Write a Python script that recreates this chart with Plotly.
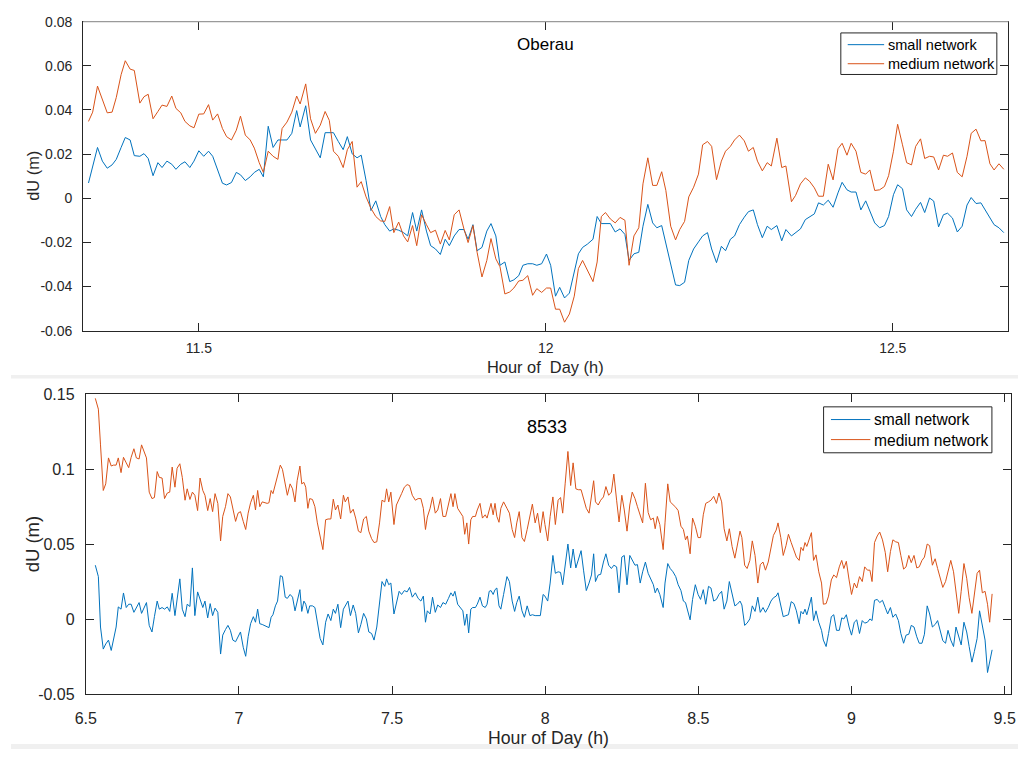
import plotly.graph_objects as go

# ---------------- Top panel (Oberau) ----------------
top_hours = [
    11.341, 11.347, 11.354, 11.361, 11.368, 11.375, 11.381, 11.388, 11.394, 11.401,
    11.407, 11.415, 11.421, 11.427, 11.434, 11.441, 11.447, 11.454, 11.461, 11.467,
    11.474, 11.480, 11.487, 11.493, 11.500, 11.507, 11.514, 11.520, 11.527, 11.534,
    11.540, 11.547, 11.554, 11.560, 11.567, 11.574, 11.580, 11.587, 11.593, 11.600,
    11.607, 11.614, 11.620, 11.627, 11.634, 11.641,
    11.646, 11.654, 11.661, 11.668, 11.675, 11.682, 11.688, 11.694, 11.701, 11.708,
    11.714, 11.721, 11.728, 11.734, 11.741, 11.748, 11.755, 11.762, 11.768, 11.775,
    11.781, 11.788, 11.795, 11.801, 11.808, 11.814, 11.821, 11.828, 11.834, 11.841,
    11.848, 11.855, 11.861, 11.868, 11.875, 11.882, 11.888, 11.895, 11.901, 11.908,
    11.915, 11.921, 11.928, 11.934, 11.941, 11.948, 11.954, 11.961, 11.967, 11.974,
    11.981, 11.987, 11.994, 12.001, 12.007, 12.014, 12.020,
    12.027, 12.034, 12.041, 12.047, 12.053, 12.060, 12.068, 12.074, 12.080, 12.086,
    12.093, 12.100, 12.107, 12.114, 12.120, 12.127, 12.134, 12.140, 12.147, 12.154,
    12.160, 12.167, 12.173, 12.180, 12.187, 12.193, 12.200, 12.206, 12.213, 12.220,
    12.226, 12.233, 12.239, 12.246, 12.253, 12.259, 12.266, 12.272, 12.279, 12.286,
    12.292, 12.299, 12.305, 12.312, 12.319, 12.325, 12.333, 12.340, 12.346, 12.354,
    12.360, 12.367, 12.374, 12.380, 12.387, 12.393, 12.400, 12.407,
    12.414, 12.421, 12.427, 12.434, 12.440, 12.447, 12.454, 12.461, 12.467, 12.474,
    12.481, 12.488, 12.494, 12.501, 12.507, 12.514, 12.520, 12.527, 12.533, 12.540,
    12.546, 12.553, 12.559, 12.566, 12.573, 12.579, 12.586, 12.593, 12.600, 12.607,
    12.613, 12.620, 12.627, 12.633, 12.640, 12.646, 12.653, 12.660,
]

top_small = [
    0.0069, 0.0139, 0.0230, 0.0168, 0.0136, 0.0151, 0.0176, 0.0230, 0.0275, 0.0264,
    0.0193, 0.0190, 0.0202, 0.0180, 0.0102, 0.0161, 0.0139, 0.0168, 0.0154, 0.0131,
    0.0154, 0.0165, 0.0139, 0.0168, 0.0215, 0.0190, 0.0213, 0.0190, 0.0131, 0.0068,
    0.0060, 0.0071, 0.0117, 0.0106, 0.0080, 0.0097, 0.0117, 0.0131, 0.0097, 0.0326,
    0.0230, 0.0264, 0.0264, 0.0264, 0.0294, 0.0397,
    0.0323, 0.0419, 0.0264, 0.0220, 0.0183, 0.0297, 0.0297, 0.0297, 0.0257, 0.0220,
    0.0279, 0.0201, 0.0183, 0.0195, 0.0080, -0.0056, -0.0012, -0.0083, -0.0120, -0.0149,
    -0.0139, -0.0145, -0.0156, -0.0171, -0.0065, -0.0149, -0.0053, -0.0149, -0.0215, -0.0230,
    -0.0255, -0.0186, -0.0215, -0.0171, -0.0142, -0.0142, -0.0186, -0.0120, -0.0238, -0.0223,
    -0.0149, -0.0115, -0.0171, -0.0304, -0.0289, -0.0378, -0.0370, -0.0351, -0.0304, -0.0297,
    -0.0297, -0.0304, -0.0297, -0.0253, -0.0304, -0.0444, -0.0404,
    -0.0452, -0.0430, -0.0326, -0.0252, -0.0223, -0.0208, -0.0186, -0.0083, -0.0115, -0.0115,
    -0.0115, -0.0153, -0.0139, -0.0164, -0.0282, -0.0252, -0.0245, -0.0127, -0.0028, -0.0112,
    -0.0134, -0.0124, -0.0208, -0.0304, -0.0393, -0.0396, -0.0381, -0.0282, -0.0230, -0.0198,
    -0.0171, -0.0156, -0.0230, -0.0292, -0.0218, -0.0238, -0.0186, -0.0171, -0.0120, -0.0086,
    -0.0061, -0.0053, -0.0120, -0.0179, -0.0127, -0.0142, -0.0124, -0.0193, -0.0142, -0.0171,
    -0.0156, -0.0139, -0.0097, -0.0083, -0.0071, -0.0021, -0.0031, -0.0009,
    -0.0041, 0.0024, 0.0072, 0.0038, 0.0028, 0.0028, -0.0053, -0.0012, -0.0061, -0.0112,
    -0.0134, -0.0124, -0.0083, 0.0016, 0.0061, 0.0043, -0.0053, -0.0083, -0.0050, -0.0019,
    -0.0065, 0.0001, -0.0013, -0.0130, -0.0075, -0.0068, -0.0090, -0.0153, -0.0127, -0.0031,
    0.0003, -0.0024, -0.0021, -0.0053, -0.0090, -0.0120, -0.0134, -0.0156,
]

top_medium = [
    0.0348, 0.0390, 0.0508, 0.0449, 0.0387, 0.0390, 0.0456, 0.0560, 0.0623, 0.0585,
    0.0579, 0.0431, 0.0460, 0.0471, 0.0360, 0.0393, 0.0422, 0.0416, 0.0463, 0.0407,
    0.0387, 0.0348, 0.0328, 0.0319, 0.0381, 0.0382, 0.0424, 0.0354, 0.0382, 0.0316,
    0.0279, 0.0264, 0.0308, 0.0372, 0.0286, 0.0264, 0.0227, 0.0161, 0.0117, 0.0213,
    0.0190, 0.0176, 0.0316, 0.0345, 0.0390, 0.0463,
    0.0427, 0.0518, 0.0360, 0.0294, 0.0331, 0.0393, 0.0353, 0.0213, 0.0190, 0.0139,
    0.0220, 0.0257, 0.0050, 0.0075, 0.0006, -0.0046, -0.0083, -0.0103, -0.0105, -0.0038,
    -0.0156, -0.0108, -0.0171, -0.0198, -0.0124, -0.0215, -0.0075, -0.0120, -0.0156, -0.0145,
    -0.0208, -0.0146, -0.0189, -0.0075, -0.0053, -0.0139, -0.0201, -0.0124, -0.0245, -0.0357,
    -0.0282, -0.0183, -0.0275, -0.0311, -0.0434, -0.0425, -0.0407, -0.0375, -0.0372, -0.0351,
    -0.0440, -0.0410, -0.0427, -0.0407, -0.0407, -0.0503, -0.0503,
    -0.0562, -0.0525, -0.0444, -0.0319, -0.0282, -0.0326, -0.0378, -0.0289, -0.0083, -0.0065,
    -0.0094, -0.0112, -0.0087, -0.0100, -0.0304, -0.0171, -0.0134, 0.0065, 0.0183, 0.0058,
    0.0058, 0.0120, 0.0035, -0.0127, -0.0189, -0.0142, -0.0105, 0.0006, 0.0050, 0.0109,
    0.0242, 0.0257, 0.0235, 0.0084, 0.0168, 0.0213, 0.0235, 0.0264, 0.0286, 0.0260,
    0.0213, 0.0230, 0.0168, 0.0124, 0.0161, 0.0146, 0.0272, 0.0139, 0.0146, -0.0016,
    0.0013, 0.0065, 0.0092, 0.0077, 0.0047, 0.0009, 0.0009, 0.0154,
    0.0083, 0.0224, 0.0249, 0.0195, 0.0249, 0.0213, 0.0117, 0.0109, 0.0128, 0.0035,
    0.0038, 0.0053, 0.0102, 0.0213, 0.0335, 0.0242, 0.0161, 0.0151, 0.0235, 0.0269,
    0.0180, 0.0190, 0.0187, 0.0128, 0.0195, 0.0190, 0.0205, 0.0117, 0.0097, 0.0190,
    0.0294, 0.0313, 0.0260, 0.0261, 0.0156, 0.0128, 0.0156, 0.0131,
]

# ---------------- Bottom panel (8533) ----------------
bot_hours = [
    6.531, 6.541, 6.548, 6.557, 6.565, 6.574, 6.583, 6.590, 6.599, 6.606,
    6.615, 6.623, 6.632, 6.640, 6.648, 6.657, 6.665, 6.674, 6.682, 6.691,
    6.698, 6.707, 6.716, 6.724, 6.733, 6.740, 6.749, 6.757, 6.766, 6.774,
    6.782, 6.791, 6.798, 6.807, 6.815, 6.824, 6.831, 6.840, 6.848, 6.856,
    6.865, 6.873, 6.882, 6.889, 6.898, 6.906, 6.914, 6.922, 6.931, 6.940,
    6.947, 6.956, 6.964, 6.972, 6.980, 6.989, 6.997, 7.005, 7.014, 7.022,
    7.030, 7.038, 7.047, 7.054, 7.061, 7.068, 7.076, 7.083, 7.092,
    7.098, 7.105, 7.111, 7.119, 7.126, 7.135, 7.142, 7.151, 7.158, 7.167,
    7.175, 7.183, 7.190, 7.199, 7.205, 7.212, 7.218, 7.225, 7.231, 7.240,
    7.248, 7.256, 7.265, 7.274, 7.283, 7.291, 7.300, 7.308, 7.315, 7.323,
    7.332, 7.341, 7.347, 7.356, 7.364, 7.373, 7.381, 7.390, 7.398, 7.407,
    7.416, 7.424, 7.433, 7.441, 7.450, 7.459, 7.467, 7.476, 7.482, 7.489,
    7.496, 7.506, 7.514, 7.523, 7.531, 7.540, 7.549, 7.557, 7.566, 7.576,
    7.585, 7.594, 7.602, 7.609, 7.615, 7.624, 7.632, 7.641, 7.649, 7.658,
    7.666, 7.675, 7.684, 7.692, 7.699, 7.705, 7.714, 7.722, 7.731, 7.737,
    7.744, 7.750, 7.757, 7.763, 7.772, 7.778, 7.787, 7.795, 7.804, 7.810,
    7.817, 7.823, 7.830, 7.836, 7.842, 7.849, 7.855, 7.864,
    7.875, 7.883, 7.892, 7.900, 7.907, 7.915, 7.924, 7.932, 7.941, 7.950,
    7.958, 7.967, 7.975, 7.984, 7.993, 7.999, 8.008, 8.016, 8.025, 8.033,
    8.042, 8.050, 8.057, 8.065, 8.074, 8.083, 8.091, 8.100, 8.108, 8.117,
    8.125, 8.134, 8.143, 8.151, 8.158, 8.164, 8.173, 8.181, 8.190, 8.198,
    8.207, 8.216, 8.224, 8.233, 8.241, 8.250, 8.258, 8.267, 8.276, 8.284,
    8.293, 8.301, 8.310, 8.318, 8.327, 8.336, 8.344, 8.353, 8.359, 8.366,
    8.374, 8.385, 8.391, 8.400, 8.408, 8.417, 8.426, 8.434, 8.443, 8.451,
    8.458, 8.464, 8.473, 8.481, 8.490, 8.499, 8.507, 8.516, 8.524, 8.533,
    8.541, 8.550, 8.559, 8.567, 8.576, 8.584, 8.593, 8.601, 8.610, 8.619,
    8.627, 8.636,
    8.642, 8.651, 8.659, 8.668, 8.676, 8.685, 8.694, 8.702, 8.711, 8.719,
    8.728, 8.737, 8.745, 8.754, 8.760, 8.769, 8.777, 8.786, 8.794, 8.803,
    8.812, 8.820, 8.829, 8.835, 8.842, 8.848, 8.854, 8.861, 8.869, 8.876,
    8.884, 8.893, 8.902, 8.908, 8.917, 8.925, 8.934, 8.942, 8.951, 8.960,
    8.968, 8.975, 8.983, 8.992, 9.000, 9.009, 9.017, 9.026, 9.035, 9.043,
    9.052, 9.060, 9.067, 9.075, 9.084, 9.092, 9.101, 9.110, 9.118, 9.127,
    9.135, 9.144, 9.153, 9.161, 9.170, 9.178, 9.187, 9.195, 9.204, 9.213,
    9.221, 9.230, 9.238, 9.247, 9.255, 9.264, 9.273, 9.281, 9.290, 9.298,
    9.307, 9.315, 9.324, 9.333, 9.341, 9.350, 9.358, 9.367, 9.376, 9.384,
    9.393, 9.401, 9.410, 9.418, 9.427, 9.436, 9.444, 9.451, 9.459,
]

bot_small = [
    0.0360, 0.0284, -0.0052, -0.0199, -0.0165, -0.0139, -0.0208, -0.0128, -0.0052, 0.0082,
    0.0067, 0.0175, 0.0078, 0.0100, 0.0100, 0.0046, 0.0078, 0.0111, 0.0039, 0.0078,
    0.0111, -0.0041, -0.0085, 0.0017, 0.0121, 0.0067, 0.0078, 0.0067, 0.0082, 0.0052,
    0.0173, 0.0024, 0.0117, 0.0269, 0.0067, 0.0017, 0.0100, 0.0085, 0.0342, 0.0024,
    0.0182, 0.0132, 0.0078, 0.0121, 0.0009, 0.0104, 0.0024, 0.0074, 0.0046, -0.0232,
    -0.0106, -0.0069, -0.0041, -0.0074, -0.0139, -0.0150, -0.0117, -0.0085, -0.0187, -0.0247,
    -0.0117, -0.0030, 0.0017, -0.0020, 0.0067, -0.0030, -0.0035, -0.0043, -0.0052,
    -0.0056, 0.0013, 0.0030, 0.0089, 0.0121, 0.0290, 0.0284, 0.0147, 0.0139, 0.0165,
    0.0147, 0.0056, 0.0126, 0.0197, 0.0052, 0.0121, 0.0100, 0.0039, 0.0089, 0.0089,
    0.0078, -0.0020, -0.0128, -0.0171, -0.0020, 0.0035, -0.0009, 0.0067, 0.0039, 0.0100,
    -0.0056, 0.0067, 0.0089, 0.0121, 0.0024, 0.0095, 0.0039, -0.0091, -0.0035, 0.0039,
    0.0002, -0.0085, -0.0095, -0.0139, -0.0052, 0.0100, 0.0251, 0.0219, 0.0269, 0.0230,
    0.0241, 0.0035, 0.0100, 0.0186, 0.0165, 0.0191, 0.0182, 0.0212, 0.0147, 0.0176,
    0.0139, 0.0121, 0.0154, -0.0020, 0.0056, 0.0035, 0.0147, 0.0046, 0.0095, 0.0078,
    0.0111, 0.0100, 0.0139, 0.0176, 0.0154, 0.0186, 0.0100, 0.0078, 0.0056, -0.0041,
    0.0035, -0.0091, 0.0067, 0.0078, 0.0078, 0.0100, 0.0147, 0.0089, 0.0078, 0.0100,
    0.0186, 0.0191, 0.0165, 0.0197, 0.0208, 0.0089, 0.0067, 0.0165,
    0.0284, 0.0251, 0.0121, 0.0052, 0.0111, 0.0154, 0.0056, 0.0013, 0.0089, 0.0024,
    0.0030, 0.0024, 0.0024, 0.0024, 0.0165, 0.0154, 0.0121, 0.0241, 0.0425, 0.0306,
    0.0316, 0.0312, 0.0230, 0.0349, 0.0501, 0.0342, 0.0468, 0.0342, 0.0392, 0.0457,
    0.0327, 0.0191, 0.0241, 0.0295, 0.0436, 0.0251, 0.0295, 0.0299, 0.0381, 0.0436,
    0.0360, 0.0338, 0.0360, 0.0349, 0.0176, 0.0414, 0.0425, 0.0230, 0.0425, 0.0392,
    0.0360, 0.0364, 0.0241, 0.0316, 0.0381, 0.0306, 0.0269, 0.0230, 0.0176, 0.0208,
    0.0165, 0.0078, 0.0241, 0.0371, 0.0338, 0.0316, 0.0284, 0.0230, 0.0191, 0.0121,
    0.0111, 0.0067, -0.0004, 0.0132, 0.0230, 0.0165, 0.0132, 0.0197, 0.0100, 0.0219,
    0.0208, 0.0121, 0.0132, 0.0165, 0.0186, 0.0067, 0.0121, 0.0251, 0.0165, 0.0089,
    0.0100, 0.0121,
    0.0095, -0.0041, -0.0026, 0.0002, 0.0089, 0.0052, 0.0147, 0.0046, 0.0078, 0.0046,
    0.0078, 0.0121, 0.0143, 0.0154, 0.0176, 0.0078, 0.0017, 0.0024, 0.0030, 0.0117,
    0.0104, 0.0056, -0.0030, 0.0052, 0.0035, 0.0067, 0.0030, 0.0082, 0.0147, -0.0009,
    0.0056, -0.0020, -0.0074, -0.0139, -0.0182, -0.0095, 0.0017, 0.0030, -0.0074, -0.0074,
    0.0009, 0.0002, 0.0030, -0.0052, -0.0106, -0.0020, -0.0004, -0.0095, -0.0009, -0.0026,
    -0.0020, 0.0002, -0.0009, 0.0126, 0.0132, 0.0111, 0.0126, 0.0078, 0.0035, 0.0078,
    0.0013, 0.0035, -0.0009, -0.0095, -0.0160, -0.0106, -0.0100, -0.0041, -0.0052, -0.0117,
    -0.0160, -0.0160, -0.0100, 0.0089, 0.0035, -0.0052, -0.0035, -0.0009, -0.0091, -0.0143,
    -0.0160, -0.0074, -0.0139, -0.0182, -0.0052, -0.0117, -0.0171, -0.0020, -0.0085, -0.0182,
    -0.0286, -0.0215, -0.0128, 0.0056, -0.0052, -0.0139, -0.0355, -0.0290, -0.0204,
]

bot_medium = [
    0.1472, 0.1400, 0.1162, 0.0858, 0.0902, 0.1075, 0.1021, 0.1027, 0.1027, 0.1075,
    0.0977, 0.1079, 0.1042, 0.1010, 0.1079, 0.1136, 0.1075, 0.1068, 0.1162, 0.1118,
    0.1075, 0.0847, 0.0804, 0.0811, 0.0984, 0.0945, 0.0941, 0.0804, 0.0841, 0.0847,
    0.1014, 0.0880, 0.1006, 0.1036, 0.0945, 0.0793, 0.0869, 0.0798, 0.0847, 0.0826,
    0.0724, 0.0941, 0.0858, 0.0826, 0.0724, 0.0804, 0.0717, 0.0837, 0.0772, 0.0522,
    0.0685, 0.0750, 0.0837, 0.0815, 0.0728, 0.0652, 0.0707, 0.0717, 0.0652, 0.0598,
    0.0707, 0.0776, 0.0826, 0.0728, 0.0858, 0.0750, 0.0782, 0.0776, 0.0772,
    0.0776, 0.0858, 0.0837, 0.0902, 0.0945, 0.1027, 0.0999, 0.0902, 0.0826, 0.0902,
    0.0869, 0.0782, 0.0923, 0.1021, 0.0902, 0.0912, 0.0880, 0.0739, 0.0804, 0.0798,
    0.0750, 0.0642, 0.0555, 0.0464, 0.0663, 0.0668, 0.0668, 0.0800, 0.0728, 0.0761,
    0.0668, 0.0826, 0.0782, 0.0815, 0.0707, 0.0733, 0.0674, 0.0587, 0.0577, 0.0668,
    0.0685, 0.0587, 0.0537, 0.0511, 0.0516, 0.0642, 0.0793, 0.0782, 0.0869, 0.0782,
    0.0847, 0.0631, 0.0761, 0.0798, 0.0837, 0.0880, 0.0897, 0.0891, 0.0826, 0.0793,
    0.0804, 0.0804, 0.0739, 0.0598, 0.0681, 0.0739, 0.0815, 0.0707, 0.0728, 0.0804,
    0.0685, 0.0685, 0.0772, 0.0837, 0.0750, 0.0837, 0.0739, 0.0717, 0.0685, 0.0566,
    0.0642, 0.0501, 0.0663, 0.0685, 0.0685, 0.0728, 0.0772, 0.0674, 0.0696, 0.0674,
    0.0739, 0.0772, 0.0696, 0.0772, 0.0685, 0.0646, 0.0739, 0.0782,
    0.0739, 0.0707, 0.0598, 0.0544, 0.0642, 0.0717, 0.0544, 0.0518, 0.0598, 0.0685,
    0.0767, 0.0642, 0.0707, 0.0577, 0.0717, 0.0631, 0.0522, 0.0685, 0.0815, 0.0631,
    0.0793, 0.0811, 0.0707, 0.0902, 0.1118, 0.0891, 0.1042, 0.0869, 0.0863, 0.0863,
    0.0804, 0.0739, 0.0707, 0.0815, 0.0923, 0.0782, 0.0761, 0.0793, 0.0815, 0.0884,
    0.0826, 0.0847, 0.0967, 0.0793, 0.0648, 0.0826, 0.0728, 0.0587, 0.0761, 0.0847,
    0.0804, 0.0750, 0.0685, 0.0642, 0.0906, 0.0711, 0.0663, 0.0674, 0.0603, 0.0685,
    0.0631, 0.0464, 0.0642, 0.0902, 0.0782, 0.0767, 0.0746, 0.0724, 0.0620, 0.0598,
    0.0529, 0.0555, 0.0436, 0.0674, 0.0620, 0.0544, 0.0544, 0.0696, 0.0772, 0.0782,
    0.0793, 0.0819, 0.0772, 0.0841, 0.0782, 0.0603, 0.0522, 0.0603, 0.0485, 0.0407,
    0.0501, 0.0587,
    0.0544, 0.0360, 0.0338, 0.0392, 0.0522, 0.0425, 0.0241, 0.0364, 0.0381, 0.0327,
    0.0381, 0.0468, 0.0559, 0.0594, 0.0642, 0.0544, 0.0425, 0.0490, 0.0566, 0.0511,
    0.0457, 0.0414, 0.0392, 0.0479, 0.0457, 0.0511, 0.0485, 0.0533, 0.0577, 0.0392,
    0.0429, 0.0316, 0.0241, 0.0100, 0.0104, 0.0154, 0.0262, 0.0295, 0.0277, 0.0349,
    0.0392, 0.0338, 0.0386, 0.0262, 0.0165, 0.0241, 0.0208, 0.0284, 0.0251, 0.0349,
    0.0327, 0.0327, 0.0251, 0.0511, 0.0555, 0.0581, 0.0529, 0.0446, 0.0316, 0.0451,
    0.0529, 0.0516, 0.0511, 0.0425, 0.0334, 0.0349, 0.0425, 0.0377, 0.0425, 0.0342,
    0.0349, 0.0392, 0.0414, 0.0501, 0.0490, 0.0360, 0.0403, 0.0338, 0.0262, 0.0212,
    0.0251, 0.0327, 0.0392, 0.0316, 0.0186, 0.0039, 0.0186, 0.0371, 0.0273, 0.0143,
    0.0039, 0.0165, 0.0306, 0.0327, 0.0176, 0.0186, 0.0100, -0.0020, 0.0169,
]

series_names = ["small network", "medium network"]
top_title = "Oberau"
bot_title = "8533"

top_xticks = [11.5, 12, 12.5]
top_xticklabels = ["11.5", "12", "12.5"]
top_yticks = [-0.06, -0.04, -0.02, 0, 0.02, 0.04, 0.06, 0.08]
top_yticklabels = ["-0.06", "-0.04", "-0.02", "0", "0.02", "0.04", "0.06", "0.08"]
bot_xticks = [6.5, 7, 7.5, 8, 8.5, 9, 9.5]
bot_xticklabels = ["6.5", "7", "7.5", "8", "8.5", "9", "9.5"]
bot_yticks = [-0.05, 0, 0.05, 0.1, 0.15]
bot_yticklabels = ["-0.05", "0", "0.05", "0.1", "0.15"]

BLUE = "#0072BD"
ORANGE = "#D95319"
AX = "#262626"
FONT = "Liberation Sans, Arial, Helvetica, sans-serif"
W, H = 1023, 758


def px_x(px):
    return px / W


def px_y(py):
    return 1 - py / H


fig = go.Figure()
fig.add_trace(go.Scatter(x=top_hours, y=top_small, mode="lines", name=series_names[0],
                         line=dict(color=BLUE, width=1), xaxis="x", yaxis="y"))
fig.add_trace(go.Scatter(x=top_hours, y=top_medium, mode="lines", name=series_names[1],
                         line=dict(color=ORANGE, width=1), xaxis="x", yaxis="y"))
fig.add_trace(go.Scatter(x=bot_hours, y=bot_small, mode="lines", name=series_names[0],
                         line=dict(color=BLUE, width=1), xaxis="x2", yaxis="y2"))
fig.add_trace(go.Scatter(x=bot_hours, y=bot_medium, mode="lines", name=series_names[1],
                         line=dict(color=ORANGE, width=1), xaxis="x2", yaxis="y2"))

axis_common = dict(showline=True, linecolor=AX, linewidth=1, mirror="allticks",
                   ticks="inside", ticklen=8, tickwidth=1, tickcolor=AX,
                   showgrid=False, zeroline=False, tickmode="array")

fig.update_layout(
    width=W, height=H, autosize=False,
    margin=dict(l=0, r=0, t=0, b=0, pad=0),
    paper_bgcolor="white", plot_bgcolor="white",
    font=dict(family=FONT, color=AX),
    showlegend=False,
    xaxis=dict(axis_common, domain=[px_x(73.3), px_x(1013.3)], range=[11.3333, 12.6667],
               tickvals=top_xticks, ticktext=top_xticklabels, anchor="y", ticklabelstandoff=5,
               tickfont=dict(family=FONT, size=14, color=AX)),
    yaxis=dict(axis_common, domain=[px_y(330), px_y(14)], range=[-0.06, 0.08],
               tickvals=top_yticks, ticktext=top_yticklabels, anchor="x", ticklabelstandoff=7,
               tickfont=dict(family=FONT, size=14, color=AX)),
    xaxis2=dict(axis_common, domain=[px_x(76), px_x(1016)], range=[6.5, 9.521],
                tickvals=bot_xticks, ticktext=bot_xticklabels, anchor="y2", ticklabelstandoff=10,
                tickfont=dict(family=FONT, size=16, color=AX)),
    yaxis2=dict(axis_common, domain=[px_y(702), px_y(395)], range=[-0.05, 0.15],
                tickvals=bot_yticks, ticktext=bot_yticklabels, anchor="x2", ticklabelstandoff=7,
                tickfont=dict(family=FONT, size=16, color=AX)),
)

annotations = [
    dict(text=top_title, x=px_x(543), y=px_y(37), size=17, color="#000000", xanchor="center"),
    dict(text=bot_title, x=px_x(545), y=px_y(429), size=18, color="#000000", xanchor="center"),
    dict(text="Hour of\u00a0 Day (h)", x=px_x(543), y=px_y(367), size=16.4, color=AX, xanchor="center"),
    dict(text="Hour of Day (h)", x=px_x(546), y=px_y(747), size=17.7, color=AX, xanchor="center"),
    dict(text="dU (m)", x=px_x(22), y=px_y(172), size=16.4, color=AX, xanchor="center", textangle=-90),
    dict(text="dU (m)", x=px_x(22), y=px_y(548), size=18.5, color=AX, xanchor="center", textangle=-90),
    # legend texts
    dict(text=series_names[0], x=px_x(888.5), y=px_y(37.5), size=14.5, color="#000000", xanchor="left"),
    dict(text=series_names[1], x=px_x(888.5), y=px_y(57.5), size=14.5, color="#000000", xanchor="left"),
    dict(text=series_names[0], x=px_x(874.5), y=px_y(421), size=15.6, color="#000000", xanchor="left"),
    dict(text=series_names[1], x=px_x(874.5), y=px_y(442), size=15.6, color="#000000", xanchor="left"),
]
ann_objs = []
for a in annotations:
    d = dict(text=a["text"], x=a["x"], y=a["y"], xref="paper", yref="paper", showarrow=False,
             xanchor=a["xanchor"], yanchor="middle",
             font=dict(family=FONT, size=a["size"], color=a["color"]))
    if "textangle" in a:
        d["textangle"] = a["textangle"]
    ann_objs.append(d)
fig.update_layout(annotations=ann_objs)


def pline(x0, x1, y0, y1, color, width=1):
    return dict(type="line", xref="paper", yref="paper", x0=px_x(x0), x1=px_x(x1),
                y0=px_y(y0), y1=px_y(y1), line=dict(color=color, width=width), layer="above")


def prect(x0, x1, y0, y1, fill, line_color=None):
    return dict(type="rect", xref="paper", yref="paper", x0=px_x(x0), x1=px_x(x1),
                y0=px_y(y1), y1=px_y(y0), fillcolor=fill,
                line=dict(color=line_color, width=1) if line_color else dict(width=0),
                layer="above" if line_color else "below")


shapes = [
    # light separator bands between / below the two panels
    prect(0, W, 375.5, 379, "#f0f0f0"),
    prect(0, W, 753, H, "#f0f0f0"),
    # lighter top border of the upper panel
    pline(73.3, 1013.3, 14, 14, "#9a9a9a", 1.2),
    # legend boxes
    prect(843, 1001.5, 25.5, 68, "white", AX),
    prect(825.5, 996.5, 408, 455, "white", AX),
    # legend line samples
    pline(850, 887, 37.5, 37.5, BLUE),
    pline(850, 887, 57, 57, ORANGE),
    pline(833, 873, 421, 421, BLUE),
    pline(833, 873, 441.5, 441.5, ORANGE),
]
fig.update_layout(shapes=shapes)

fig.write_html("out.html")
